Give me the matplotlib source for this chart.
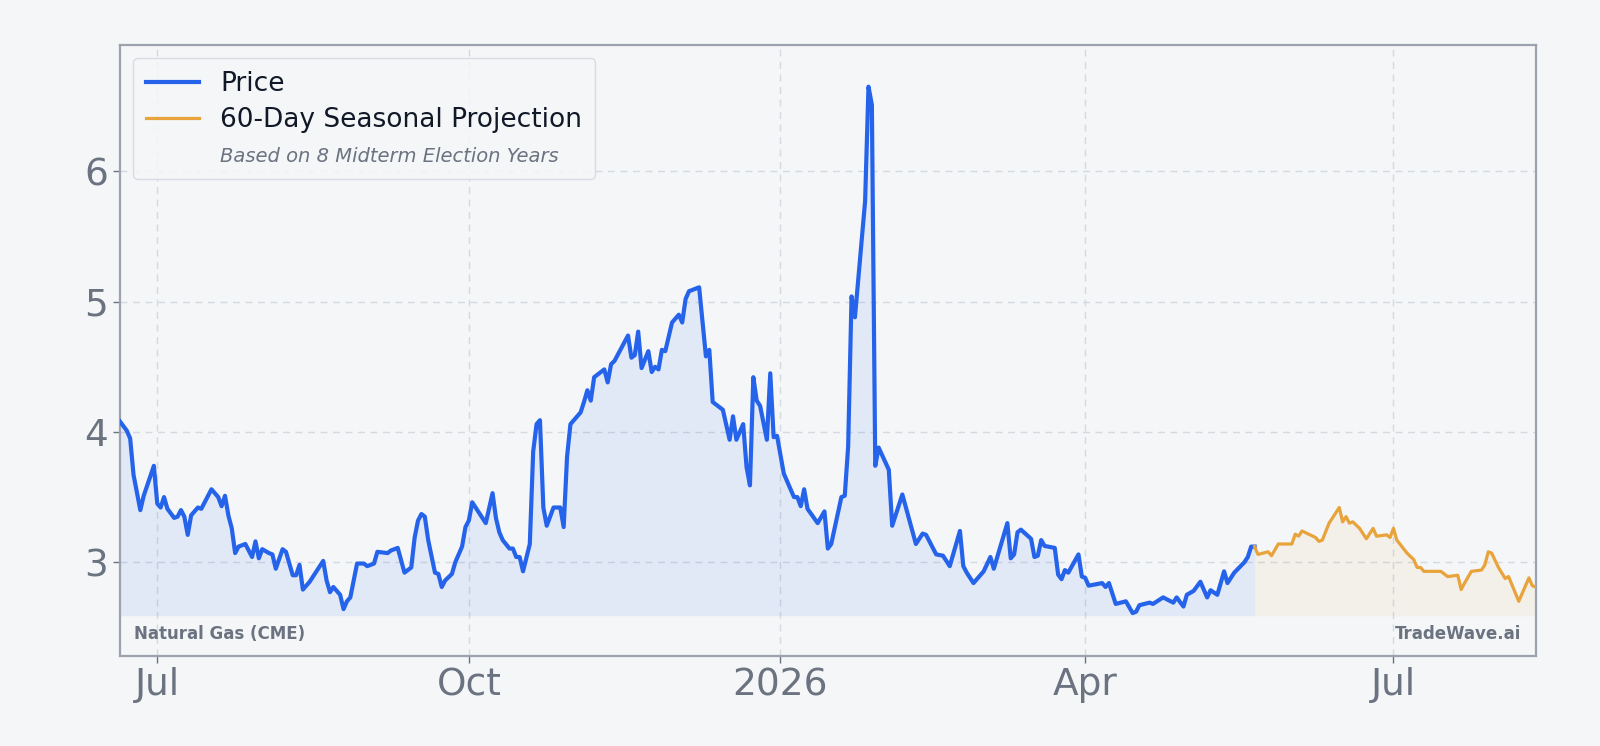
import matplotlib.pyplot as plt
from matplotlib.lines import Line2D
import pandas as pd

# price history
price_dates = [
    "2025-06-20", "2025-06-22", "2025-06-23", "2025-06-24", "2025-06-26", "2025-06-27", "2025-06-30",
    "2025-07-01", "2025-07-02", "2025-07-03", "2025-07-04", "2025-07-06", "2025-07-07", "2025-07-08",
    "2025-07-09", "2025-07-10", "2025-07-11", "2025-07-13", "2025-07-14", "2025-07-15", "2025-07-17",
    "2025-07-19", "2025-07-20", "2025-07-21", "2025-07-22", "2025-07-23", "2025-07-24", "2025-07-25",
    "2025-07-27", "2025-07-28", "2025-07-29", "2025-07-30", "2025-07-31", "2025-08-01", "2025-08-03",
    "2025-08-04", "2025-08-05", "2025-08-07", "2025-08-08", "2025-08-10", "2025-08-11", "2025-08-12",
    "2025-08-13", "2025-08-15", "2025-08-17", "2025-08-19", "2025-08-20", "2025-08-21", "2025-08-22",
    "2025-08-24", "2025-08-25", "2025-08-26", "2025-08-27", "2025-08-29", "2025-08-31", "2025-09-01",
    "2025-09-03", "2025-09-04", "2025-09-07", "2025-09-08", "2025-09-10", "2025-09-12", "2025-09-14",
    "2025-09-15", "2025-09-16", "2025-09-17", "2025-09-18", "2025-09-19", "2025-09-21", "2025-09-22",
    "2025-09-23", "2025-09-24", "2025-09-26", "2025-09-27", "2025-09-29", "2025-09-30", "2025-10-01",
    "2025-10-02", "2025-10-06", "2025-10-08", "2025-10-09", "2025-10-10", "2025-10-11", "2025-10-13",
    "2025-10-14", "2025-10-15", "2025-10-16", "2025-10-17", "2025-10-19", "2025-10-20", "2025-10-21",
    "2025-10-22", "2025-10-23", "2025-10-24", "2025-10-26", "2025-10-28", "2025-10-29", "2025-10-30",
    "2025-10-31", "2025-11-03", "2025-11-04", "2025-11-05", "2025-11-06", "2025-11-07", "2025-11-10",
    "2025-11-11", "2025-11-12", "2025-11-13", "2025-11-17", "2025-11-18", "2025-11-19", "2025-11-20",
    "2025-11-21", "2025-11-23", "2025-11-24", "2025-11-25", "2025-11-26", "2025-11-27", "2025-11-28",
    "2025-11-30", "2025-12-02", "2025-12-03", "2025-12-04", "2025-12-05", "2025-12-08", "2025-12-10",
    "2025-12-11", "2025-12-12", "2025-12-15", "2025-12-17", "2025-12-18", "2025-12-19", "2025-12-21",
    "2025-12-22", "2025-12-23", "2025-12-24", "2025-12-25", "2025-12-26", "2025-12-28", "2025-12-29",
    "2025-12-30", "2025-12-31", "2026-01-02", "2026-01-05", "2026-01-06", "2026-01-07", "2026-01-08",
    "2026-01-09", "2026-01-12", "2026-01-14", "2026-01-15", "2026-01-16", "2026-01-19", "2026-01-20",
    "2026-01-21", "2026-01-22", "2026-01-23", "2026-01-26", "2026-01-27", "2026-01-28", "2026-01-29",
    "2026-01-30", "2026-02-02", "2026-02-03", "2026-02-06", "2026-02-10", "2026-02-12", "2026-02-13",
    "2026-02-16", "2026-02-18", "2026-02-20", "2026-02-23", "2026-02-24", "2026-02-25", "2026-02-27",
    "2026-03-02", "2026-03-04", "2026-03-05", "2026-03-09", "2026-03-10", "2026-03-11", "2026-03-12",
    "2026-03-13", "2026-03-16", "2026-03-17", "2026-03-18", "2026-03-19", "2026-03-20", "2026-03-23",
    "2026-03-24", "2026-03-25", "2026-03-26", "2026-03-27", "2026-03-30", "2026-03-31", "2026-04-01",
    "2026-04-02", "2026-04-06", "2026-04-07", "2026-04-08", "2026-04-10", "2026-04-13", "2026-04-15",
    "2026-04-16", "2026-04-17", "2026-04-20", "2026-04-21", "2026-04-24", "2026-04-27", "2026-04-28",
    "2026-04-30", "2026-05-01", "2026-05-03", "2026-05-05", "2026-05-07", "2026-05-08", "2026-05-10",
    "2026-05-12", "2026-05-13", "2026-05-15", "2026-05-18", "2026-05-19", "2026-05-20", "2026-05-21",
]
price_vals = [
    4.08, 4.01, 3.95, 3.67, 3.40, 3.51, 3.74,
    3.45, 3.42, 3.50, 3.41, 3.34, 3.35, 3.40,
    3.35, 3.21, 3.36, 3.42, 3.41, 3.46, 3.56,
    3.50, 3.43, 3.51, 3.36, 3.26, 3.07, 3.12,
    3.14, 3.09, 3.04, 3.16, 3.03, 3.10, 3.07,
    3.06, 2.95, 3.10, 3.08, 2.90, 2.90, 2.98,
    2.79, 2.85, 2.93, 3.01, 2.86, 2.77, 2.81,
    2.75, 2.64, 2.70, 2.73, 2.99, 2.99, 2.97,
    2.99, 3.08, 3.07, 3.09, 3.11, 2.92, 2.96,
    3.19, 3.32, 3.37, 3.35, 3.17, 2.92, 2.91,
    2.81, 2.86, 2.91, 3.00, 3.12, 3.27, 3.32,
    3.46, 3.30, 3.53, 3.34, 3.23, 3.17, 3.105,
    3.105, 3.04, 3.04, 2.93, 3.14, 3.85, 4.06,
    4.09, 3.42, 3.28, 3.42, 3.42, 3.27, 3.81,
    4.06, 4.15, 4.23, 4.32, 4.24, 4.42, 4.48,
    4.38, 4.52, 4.545, 4.74, 4.57, 4.59, 4.77,
    4.49, 4.62, 4.46, 4.50, 4.48, 4.63, 4.62,
    4.84, 4.90, 4.84, 5.02, 5.08, 5.11, 4.58,
    4.63, 4.23, 4.17, 3.94, 4.12, 3.94, 4.06,
    3.73, 3.59, 4.42, 4.24, 4.20, 3.94, 4.45,
    3.96, 3.97, 3.68, 3.50, 3.50, 3.43, 3.56,
    3.41, 3.30, 3.39, 3.105, 3.14, 3.50, 3.51,
    3.89, 5.04, 4.88, 5.77, 6.65, 6.51, 3.74,
    3.88, 3.71, 3.28, 3.52, 3.14, 3.22, 3.21,
    3.06, 3.05, 2.97, 3.24, 2.97, 2.92, 2.84,
    2.93, 3.04, 2.95, 3.30, 3.03, 3.06, 3.23,
    3.25, 3.18, 3.04, 3.05, 3.17, 3.125, 3.11,
    2.905, 2.87, 2.94, 2.92, 3.06, 2.89, 2.88,
    2.82, 2.84, 2.81, 2.84, 2.68, 2.70, 2.61,
    2.62, 2.67, 2.69, 2.68, 2.73, 2.69, 2.73,
    2.66, 2.75, 2.78, 2.85, 2.73, 2.785, 2.75,
    2.93, 2.84, 2.92, 3.00, 3.04, 3.12, 3.12,
]

# 60-day seasonal projection
proj_dates = [
    "2026-05-21", "2026-05-22", "2026-05-25", "2026-05-26", "2026-05-28", "2026-06-01", "2026-06-02",
    "2026-06-03", "2026-06-04", "2026-06-08", "2026-06-09", "2026-06-10", "2026-06-12", "2026-06-15",
    "2026-06-16", "2026-06-17", "2026-06-18", "2026-06-19", "2026-06-21", "2026-06-23", "2026-06-25",
    "2026-06-26", "2026-06-29", "2026-06-30", "2026-07-01", "2026-07-02", "2026-07-05", "2026-07-07",
    "2026-07-08", "2026-07-09", "2026-07-10", "2026-07-15", "2026-07-17", "2026-07-20", "2026-07-21",
    "2026-07-22", "2026-07-24", "2026-07-27", "2026-07-28", "2026-07-29", "2026-07-30", "2026-08-01",
    "2026-08-03", "2026-08-04", "2026-08-07", "2026-08-10", "2026-08-11", "2026-08-12",
]
proj_vals = [
    3.12, 3.06, 3.08, 3.05, 3.14, 3.14, 3.215,
    3.20, 3.24, 3.19, 3.16, 3.17, 3.30, 3.42,
    3.31, 3.35, 3.30, 3.31, 3.26, 3.18, 3.26,
    3.20, 3.21, 3.19, 3.26, 3.17, 3.07, 3.02,
    2.96, 2.96, 2.93, 2.93, 2.89, 2.90, 2.79,
    2.84, 2.93, 2.94, 2.98, 3.08, 3.07, 2.96,
    2.875, 2.89, 2.70, 2.88, 2.82, 2.81,
]

tick_dates = ["2025-07-01", "2025-10-01", "2026-01-01", "2026-04-01", "2026-07-01"]
tick_labels = ["Jul", "Oct", "2026", "Apr", "Jul"]
y_ticks = [3, 4, 5, 6]

BG = "#f4f6f8"
BLUE = "#2563eb"
ORANGE = "#e8a33a"
GREY = "#6b7280"

px = pd.to_datetime(price_dates)
pj = pd.to_datetime(proj_dates)
base = 2.59

fig = plt.figure(figsize=(16, 7.46), dpi=100, facecolor=BG)
ax = fig.add_axes([0.075, 0.1206, 0.8848, 0.8191], facecolor=BG)

ax.fill_between(px, price_vals, base, color=BLUE, alpha=0.09, lw=0)
ax.fill_between(pj, proj_vals, base, color=ORANGE, alpha=0.08, lw=0)
ax.plot(px, price_vals, color=BLUE, lw=3.0, zorder=3)
ax.plot(pj, proj_vals, color=ORANGE, lw=2.3, zorder=3)

ax.set_xlim(px[0], pj[-1])
ax.set_ylim(2.28, 6.97)
ax.set_yticks(y_ticks)
ax.set_xticks(pd.to_datetime(tick_dates))
ax.set_xticklabels(tick_labels)
ax.tick_params(axis="both", labelsize=27, colors=GREY, length=5, width=1)
ax.tick_params(axis="x", pad=3)
ax.grid(True, color="#d5d9e0", ls=(0, (5, 4)), lw=1)
ax.set_axisbelow(True)
for s in ax.spines.values():
    s.set_color("#9ca3af")
    s.set_linewidth(1.6)

handles = [
    Line2D([], [], color=BLUE, lw=3.0),
    Line2D([], [], color=ORANGE, lw=2.3),
    Line2D([], [], color="none"),
]
leg = ax.legend(handles, ["Price", "60-Day Seasonal Projection", "Based on 8 Midterm Election Years"],
                loc="upper left", fontsize=19, frameon=True, facecolor=BG, edgecolor="#d5d9e0",
                framealpha=0.9, borderpad=0.5, handlelength=2.0, handletextpad=0.8,
                labelspacing=0.38)
for t in leg.get_texts():
    t.set_color("#111827")
sub = leg.get_texts()[2]
sub.set_fontsize(14)
sub.set_style("italic")
sub.set_color(GREY)

ax.text(0.01, 0.022, "Natural Gas (CME)", transform=ax.transAxes, fontsize=12,
        fontweight="bold", color=GREY, va="bottom", ha="left")
ax.text(0.99, 0.022, "TradeWave.ai", transform=ax.transAxes, fontsize=12,
        fontweight="bold", color=GREY, va="bottom", ha="right")

fig.savefig("out.png", dpi=100, facecolor=BG)
